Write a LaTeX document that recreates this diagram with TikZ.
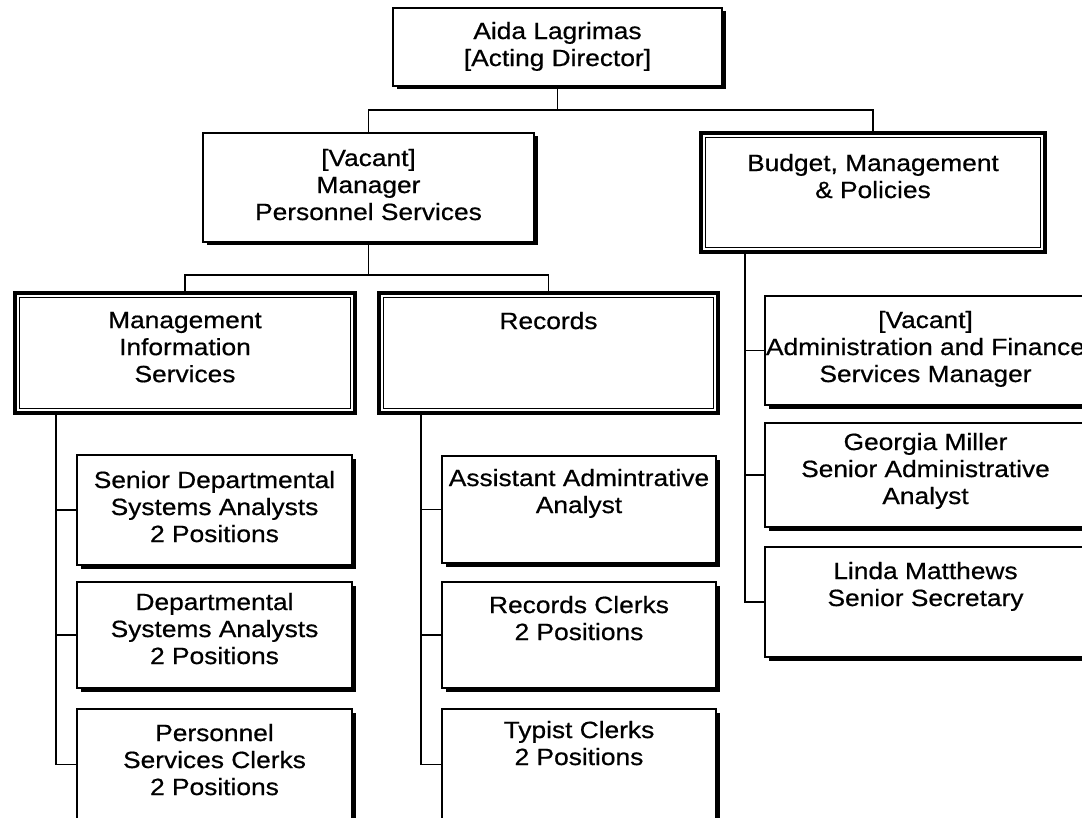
\documentclass[tikz,border=0pt]{standalone}
\usepackage{fontspec}
\setmainfont{Liberation Sans}[FakeStretch=1.12,FakeBold=0.6]
\usetikzlibrary{calc,shadows}
\newcommand{\cardtext}[4][15]{\parbox[c][#3pt][t]{#2pt}{\centering\vspace*{#1pt}#4\par}}

\begin{document}
\begin{tikzpicture}[x=1pt,y=-1pt,
  font=\fontsize{23.5}{27}\selectfont,
  unit/.style={draw,line width=1.6pt,fill=white,inner sep=0pt,outer sep=0pt,anchor=north west,
    drop shadow={shadow xshift=3.5pt,shadow yshift=-3.5pt,fill=black,opacity=1}},
  dept/.style={draw,line width=3.8pt,fill=white,inner sep=0pt,outer sep=0pt,anchor=north west},
  link/.style={line width=1.8pt}]
\useasboundingbox (0,0) rectangle (1082,818);

% director and her two branches
\node[unit] (dir) at (393,8) {\cardtext[14]{329}{78}{Aida Lagrimas\\{}[Acting Director]}};
\node[unit] (mgr) at (203,133) {\cardtext[16]{331}{109}{[Vacant]\\Manager\\Personnel Services}};
\node[dept] (bud) at (701,133) {\cardtext[21]{344}{119}{Budget, Management\\\& Policies}};

% sections under personnel services
\node[dept] (mis) at (15,293) {\cardtext[19]{340}{120}{Management\\Information\\Services}};
\node[dept] (rec) at (379,293) {\cardtext[19]{339}{120}{Records}};

% staff
\node[unit] (sd) at (77,455) {\cardtext[16]{275}{110}{Senior Departmental\\Systems Analysts\\2 Positions}};
\node[unit] (da) at (77,582) {\cardtext[11]{275}{106}{Departmental\\Systems Analysts\\2 Positions}};
\node[unit] (psc) at (77,709) {\cardtext[15]{275}{111}{Personnel\\Services Clerks\\2 Positions}};
\node[unit] (aa) at (442,456) {\cardtext[13]{274}{107}{\mbox{Assistant Admintrative}\\Analyst}};
\node[unit] (rc) at (442,582) {\cardtext[14]{274}{106}{Records Clerks\\2 Positions}};
\node[unit] (tc) at (442,709) {\cardtext[12]{274}{111}{Typist Clerks\\2 Positions}};
\node[unit] (adm) at (765,296) {\cardtext[15]{321}{109}{[Vacant]\\\mbox{Administration and Finance}\\Services Manager}};
\node[unit] (gm) at (765,423) {\cardtext[10]{321}{104}{Georgia Miller\\Senior Administrative\\Analyst}};
\node[unit] (lm) at (765,547) {\cardtext[15]{321}{110}{Linda Matthews\\Senior Secretary}};

% inner frame of the double boxes
\foreach \n in {bud,mis,rec}
  \draw[line width=1.1pt] ($(\n.north west)+(4.7,4.7)$) rectangle ($(\n.south east)+(-4.7,-4.7)$);

% connectors
\coordinate (topbus) at ($(dir.south)+(0,24)$);
\draw[link] (dir.south) -- (topbus);
\draw[link] (mgr.north) |- (topbus) -| (bud.north);
\coordinate (midbus) at ($(mgr.south)+(0,33)$);
\draw[link] (mgr.south) -- (midbus);
\draw[link] (mis.north) |- (midbus) -| (rec.north);

\coordinate (misline) at ($(mis.south west)+(41,0)$);
\draw[link] (misline) |- (psc.west);
\foreach \n in {sd,da} \draw[link] (misline |- \n.west) -- (\n.west);

\coordinate (recline) at ($(rec.south west)+(42,0)$);
\draw[link] (recline) |- (tc.west);
\foreach \n in {aa,rc} \draw[link] (recline |- \n.west) -- (\n.west);

\coordinate (budline) at ($(bud.south west)+(44,0)$);
\draw[link] (budline) |- (lm.west);
\foreach \n in {adm,gm} \draw[link] (budline |- \n.west) -- (\n.west);
\end{tikzpicture}
\end{document}
